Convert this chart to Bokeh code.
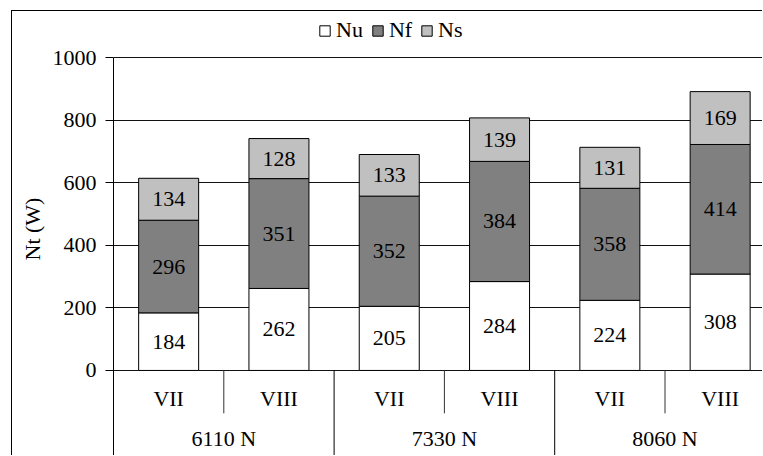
import numpy as np
from bokeh.plotting import figure
from bokeh.models import (Range1d, FixedTicker, Legend, LegendItem, Title, Label, LabelSet,
                          ColumnDataSource)
from bokeh.core.properties import value
from bokeh.embed import file_html
from bokeh.resources import INLINE

groups = ["6110 N", "7330 N", "8060 N"]
months = ["VII", "VIII"]
nu = [184, 262, 205, 284, 224, 308]
nf = [296, 351, 352, 384, 358, 414]
ns = [134, 128, 133, 139, 131, 169]
y_ticks = [0, 200, 400, 600, 800, 1000]
series_names = ["Nu", "Nf", "Ns"]
series_colors = ["#FFFFFF", "#808080", "#C0C0C0"]
y_title = "Nt (W)"

FONT = "'Liberation Serif', 'Times New Roman', serif"
FS = "22px"

n = len(nu)
n_sub = len(months)
xc = np.arange(n) + 0.5
sub_labels = [months[i % n_sub] for i in range(n)]
Y_BOT = -275

p = figure(width=751, height=445, output_backend="svg", toolbar_location=None,
           x_range=Range1d(0, 5.893), y_range=Range1d(Y_BOT, 1147),
           x_axis_location=None, min_border_left=101, min_border_top=0,
           min_border_right=0, min_border_bottom=0)
p.styles = {"margin-left": "11px", "margin-top": "10px",
            "border-top": "1px solid #000000", "border-left": "1px solid #000000"}
p.outline_line_color = None
p.xgrid.visible = False
p.ygrid.ticker = FixedTicker(ticks=y_ticks)
p.ygrid.grid_line_color = "#111111"
p.ygrid.grid_line_width = 1

ax = p.yaxis[0]
ax.ticker = FixedTicker(ticks=y_ticks)
ax.bounds = (Y_BOT, max(y_ticks))
ax.major_tick_out = 8
ax.major_tick_in = 0
ax.minor_tick_out = 0
ax.minor_tick_in = 0
ax.axis_line_color = "#000000"
ax.major_tick_line_color = "#000000"
ax.major_label_text_font = FONT
ax.major_label_text_font_size = FS
ax.major_label_text_color = "#000000"
ax.major_label_standoff = 9

src = ColumnDataSource(dict(x=xc, Nu=nu, Nf=nf, Ns=ns))
rends = p.vbar_stack(series_names, x="x", width=0.544, source=src,
                     fill_color=series_colors, line_color="#000000", line_width=1)

# value labels centred in each segment
vals = np.array([nu, nf, ns], dtype=float)
tops = np.cumsum(vals, axis=0)
mids = tops - vals / 2
lx, ly, lt = [], [], []
for k in range(vals.shape[0]):
    for i in range(n):
        lx.append(xc[i]); ly.append(mids[k, i]); lt.append(str(int(vals[k, i])))
val_src = ColumnDataSource(dict(x=lx, y=ly, t=lt))
p.add_layout(LabelSet(x="x", y="y", text="t", source=val_src, text_font=value(FONT),
                      text_font_size=value(FS), text_align="center", text_baseline="middle",
                      text_color="#000000"))

# category axis (multi-level) drawn below zero
short_x = [g * n_sub + 1 for g in range(len(groups))]
long_x = [g * n_sub for g in range(1, len(groups))]
p.segment(x0=short_x, y0=[0] * len(short_x), x1=short_x, y1=[-137] * len(short_x),
          line_color="#333333", line_width=1)
p.segment(x0=long_x, y0=[0] * len(long_x), x1=long_x, y1=[Y_BOT] * len(long_x),
          line_color="#000000", line_width=1)
cat_src = ColumnDataSource(dict(x=xc, y=[-89] * n, t=sub_labels))
p.add_layout(LabelSet(x="x", y="y", text="t", source=cat_src, text_font=value(FONT),
                      text_font_size=value(FS), text_align="center", text_baseline="middle",
                      text_color="#000000"))
for g, name in enumerate(groups):
    p.add_layout(Label(x=g * n_sub + n_sub / 2, y=-217, text=name, text_font=FONT,
                       text_font_size=FS, text_align="center", text_baseline="middle",
                       text_color="#000000"))

# y axis title
ttl = Title(text=y_title, align="left", offset=196, text_font=FONT, text_font_size=FS,
            text_font_style="normal", text_color="#000000")
p.add_layout(ttl, "left")

legend = Legend(items=[LegendItem(label=nm, renderers=[r]) for nm, r in zip(series_names, rends)],
                orientation="horizontal", location=(205, 413),
                border_line_color=None, background_fill_alpha=0,
                label_text_font=FONT, label_text_font_size=FS, label_text_color="#000000",
                glyph_width=13, glyph_height=13, label_standoff=5, spacing=8,
                padding=0, margin=0)
p.add_layout(legend, "center")

open("out.html", "w").write(file_html(p, INLINE))
